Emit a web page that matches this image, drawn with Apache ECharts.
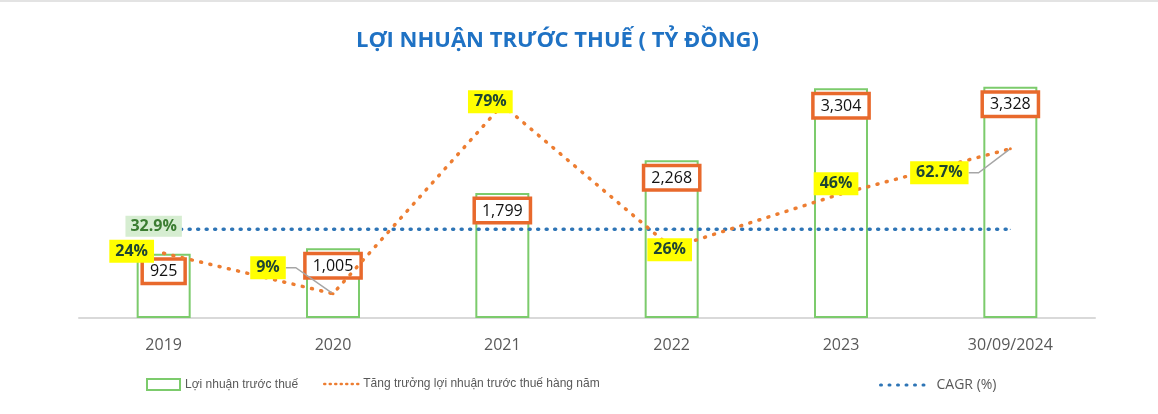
<!DOCTYPE html>
<html>
<head>
<meta charset="utf-8">
<script src="https://cdn.jsdelivr.net/npm/echarts@6/dist/echarts.min.js"></script>
<style>
  html, body { margin: 0; padding: 0; background: #fff; }
  #chart { width: 1158px; height: 412px; border-top: 2px solid #e3e3e3; }
</style>
</head>
<body>
<div id="chart"></div>
<script>
// values
var years = ['2019', '2020', '2021', '2022', '2023', '30/09/2024'];
var profit = [925, 1005, 1799, 2268, 3304, 3328];
var growth = [24, 9, 79, 26, 46, 62.7];
var cagr = 32.9;

// where each growth label sits relative to its point
var growthLabelShift = [[-32, -2], [-65, -26], [-12, -3], [-2, 2], [-5, -10], [-71, 24]];
var withLeader = [false, true, false, false, false, true];

var chart = echarts.init(document.getElementById('chart'));

var growthData = growth.map(function (v, i) {
    return { value: v, labelLine: { show: withLeader[i] } };
});
var cagrData = years.map(function (y, i) {
    return i === 0 ? { value: cagr, label: { show: true } } : cagr;
});

var legendText = { color: '#595959', fontSize: 12, fontFamily: '"Liberation Sans", Arial' };

chart.setOption({
    animation: false,
    title: {
        text: 'LỢI NHUẬN TRƯỚC THUẾ ( TỶ ĐỒNG)',
        left: 351,
        top: 23,
        textStyle: { color: '#1f72c4', fontSize: 22, fontWeight: 'bold', fontFamily: '"Open Sans"' }
    },
    legend: [{
        data: ['Lợi nhuận trước thuế'],
        left: 141, top: 371,
        icon: 'rect', itemWidth: 33, itemHeight: 11, itemGap: 0,
        textStyle: legendText
    }, {
        data: ['Tăng trưởng lợi nhuận trước thuế hàng năm'],
        left: 318, top: 371,
        itemWidth: 34, itemHeight: 11,
        itemStyle: { opacity: 0 },
        lineStyle: { type: [1, 4.5], width: 2.5, cap: 'round' },
        textStyle: legendText
    }, {
        data: ['CAGR (%)'],
        left: 874, top: 371,
        itemWidth: 51, itemHeight: 11,
        itemStyle: { opacity: 0 },
        lineStyle: { type: [1, 7.5], width: 3, cap: 'round' },
        textStyle: { color: '#595959', fontSize: 14, fontFamily: '"Open Sans"' }
    }],
    grid: { left: 79, right: 63, top: 38, bottom: 96 },
    xAxis: {
        type: 'category',
        data: years,
        axisLine: { lineStyle: { color: '#d9d9d9', width: 2 } },
        axisTick: { show: false },
        axisLabel: { color: '#595959', fontSize: 16, margin: 19, fontFamily: '"Open Sans"' }
    },
    yAxis: [{
        type: 'value', min: 0, max: 4000, show: false, splitLine: { show: false }
    }, {
        type: 'value', min: 0, max: 103, show: false, splitLine: { show: false }
    }],
    series: [{
        name: 'Lợi nhuận trước thuế',
        type: 'bar',
        data: profit,
        barWidth: 54,
        itemStyle: { color: '#ffffff', borderColor: '#7ccb6c', borderWidth: 2 },
        label: {
            show: true,
            position: 'insideTop',
            distance: 7,
            formatter: function (p) { return p.value.toLocaleString('en-US'); },
            color: '#111',
            fontSize: 16,
            fontFamily: '"Open Sans"',
            backgroundColor: '#ffffff',
            borderColor: '#e8692c',
            borderWidth: 3.5,
            padding: [3, 6, 2, 6]
        }
    }, {
        name: 'Tăng trưởng lợi nhuận trước thuế hàng năm',
        type: 'line',
        yAxisIndex: 1,
        data: growthData,
        symbol: 'circle',
        symbolSize: 3,
        itemStyle: { color: '#ed7d31' },
        lineStyle: { color: '#ed7d31', width: 3.5, type: [1, 8.5], cap: 'round' },
        z: 3,
        label: {
            show: true,
            position: 'inside',
            formatter: function (p) { return p.value + '%'; },
            color: '#1e4533',
            fontSize: 16,
            fontWeight: 'bold',
            fontFamily: '"Open Sans"',
            backgroundColor: '#ffff00',
            padding: [4, 6, 3, 6]
        },
        labelLine: {
            length2: 10,
            lineStyle: { color: '#a6a6a6', width: 1.5 }
        },
        labelLayout: function (p) {
            var s = growthLabelShift[p.dataIndex];
            return { dx: s[0], dy: s[1] };
        }
    }, {
        name: 'CAGR (%)',
        type: 'line',
        yAxisIndex: 1,
        data: cagrData,
        symbol: 'circle',
        symbolSize: 1,
        showSymbol: true,
        lineStyle: { color: '#2e75b6', width: 3.5, type: [1, 7.5], cap: 'round' },
        itemStyle: { color: '#2e75b6' },
        z: 2,
        label: {
            show: false,
            position: 'inside',
            offset: [-10, -3],
            formatter: function (p) { return p.value + '%'; },
            color: '#3b7d31',
            fontSize: 16,
            fontWeight: 'bold',
            fontFamily: '"Open Sans"',
            backgroundColor: '#d6edd1',
            padding: [3, 5, 2, 5]
        }
    }]
});
</script>
</body>
</html>
